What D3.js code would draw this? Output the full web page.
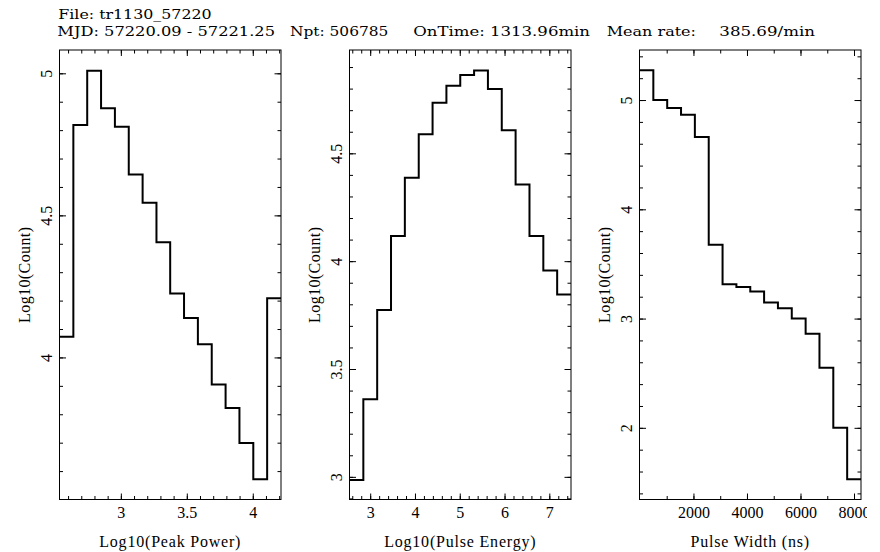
<!DOCTYPE html>
<html>
<head>
<meta charset="utf-8">
<script src="https://cdn.jsdelivr.net/npm/d3@7"></script>
<style>
body { margin: 0; background: #fff; }
svg { display: block; }
text { fill: #000; }
</style>
</head>
<body>
<svg width="880" height="552"></svg>
<script>
// header text
var headerTexts = ['File: tr1130_57220', 'MJD: 57220.09 - 57221.25', 'Npt: 506785',
    'OnTime: 1313.96min', 'Mean rate:', '385.69/min'];

// Log10(Peak Power) histogram
var peakEdges = [2.535, 2.640, 2.745, 2.850, 2.955, 3.060, 3.165, 3.270, 3.374,
    3.479, 3.584, 3.689, 3.794, 3.899, 4.004, 4.109, 4.214];
var peakCounts = [4.073, 4.818, 5.009, 4.877, 4.812, 4.644, 4.544, 4.405,
    4.225, 4.139, 4.046, 3.905, 3.822, 3.699, 3.571, 4.208];
var peakXTicks = [3, 3.5, 4];
var peakYTicks = [4, 4.5, 5];

// Log10(Pulse Energy) histogram
var energyEdges = [2.538, 2.847, 3.156, 3.465, 3.774, 4.084, 4.393, 4.702, 5.011,
    5.320, 5.629, 5.938, 6.247, 6.557, 6.866, 7.175, 7.484];
var energyCounts = [2.985, 3.360, 3.774, 4.117, 4.387, 4.588, 4.735, 4.813,
    4.863, 4.884, 4.798, 4.607, 4.356, 4.117, 3.957, 3.846];
var energyXTicks = [3, 4, 5, 6, 7];
var energyYTicks = [3, 3.5, 4, 4.5];

// Pulse Width histogram
var widthEdges = [-16, 501, 1019, 1536, 2053, 2571, 3088, 3605, 4123,
    4640, 5157, 5674, 6192, 6709, 7226, 7744, 8261];
var widthCounts = [5.272, 5.000, 4.927, 4.866, 4.661, 3.675, 3.315, 3.290,
    3.248, 3.147, 3.095, 3.000, 2.860, 2.549, 2.000, 1.530];
var widthXTicks = [2000, 4000, 6000, 8000];
var widthYTicks = [2, 3, 4, 5];

var svg = d3.select('svg');
var root = svg.append('g');

// clip like the plot device edge (last tick label is cut)
svg.append('clipPath').attr('id', 'devclip')
    .append('rect').attr('x', 0).attr('y', 0).attr('width', 867).attr('height', 552);
root.attr('clip-path', 'url(#devclip)');

// header, positioned/stretched to the original text widths
var headerLayout = [[58.3, 19.3, 153.3], [57.3, 36, 217.7], [290, 36, 98.3],
    [413.3, 36, 176.7], [606.7, 36, 89.3], [719.3, 36, 95.7]];
root.selectAll('.header')
    .data(headerTexts)
    .enter().append('text')
    .attr('class', 'header')
    .attr('x', function(d, i) { return headerLayout[i][0]; })
    .attr('y', function(d, i) { return headerLayout[i][1]; })
    .attr('textLength', function(d, i) { return headerLayout[i][2]; })
    .attr('lengthAdjust', 'spacingAndGlyphs')
    .style('font-family', '"DejaVu Serif", serif')
    .style('font-size', '13px')
    .text(function(d) { return d; });

var plotTop = 50, plotBottom = 499.5, pw = 221.5;
var panels = [
    {left: 59.5, edges: peakEdges, counts: peakCounts, xDomain: [2.535, 4.214], yDomain: [3.5, 5.082],
        xTicks: peakXTicks, xMinor: d3.range(2.6, 4.25, 0.1), yTicks: peakYTicks, yMinor: d3.range(3.6, 5.05, 0.1),
        xLabel: 'Log10(Peak Power)'},
    {left: 349.5, edges: energyEdges, counts: energyCounts, xDomain: [2.538, 7.484], yDomain: [2.895, 4.979],
        xTicks: energyXTicks, xMinor: d3.range(2.6, 7.45, 0.2), yTicks: energyYTicks, yMinor: d3.range(2.9, 4.95, 0.1),
        xLabel: 'Log10(Pulse Energy)'},
    {left: 639.5, edges: widthEdges, counts: widthCounts, xDomain: [-16, 8261], yDomain: [1.344, 5.458],
        xTicks: widthXTicks, xMinor: d3.range(1000, 8200, 1000), yTicks: widthYTicks, yMinor: d3.range(1.4, 5.45, 0.2),
        xLabel: 'Pulse Width (ns)'}
];

var fontTick = '"Liberation Serif", serif';

panels.forEach(function(p) {
    var xScale = d3.scaleLinear().domain(p.xDomain).range([p.left, p.left + pw]);
    var yScale = d3.scaleLinear().domain(p.yDomain).range([plotBottom, plotTop]);
    var g = root.append('g');

    function axisGroup(axis, tx, ty) {
        var a = g.append('g')
            .attr('transform', 'translate(' + [tx, ty] + ')')
            .call(axis);
        a.select('.domain').remove();
        a.selectAll('line').attr('stroke', '#000').attr('stroke-width', 1);
        a.selectAll('text').style('font-family', fontTick).style('font-size', '16px').attr('fill', '#000');
        return a;
    }
    var fmt = function(d) { return String(d); };

    // major + minor ticks on all four sides, pointing inward
    axisGroup(d3.axisBottom(xScale).tickValues(p.xTicks).tickSizeInner(-6).tickSizeOuter(0)
        .tickPadding(7).tickFormat(fmt), 0, plotBottom);
    axisGroup(d3.axisBottom(xScale).tickValues(p.xMinor).tickSizeInner(-3.5).tickSizeOuter(0).tickFormat(''), 0, plotBottom);
    axisGroup(d3.axisTop(xScale).tickValues(p.xTicks).tickSizeInner(-6).tickSizeOuter(0).tickFormat(''), 0, plotTop);
    axisGroup(d3.axisTop(xScale).tickValues(p.xMinor).tickSizeInner(-3.5).tickSizeOuter(0).tickFormat(''), 0, plotTop);

    var yl = axisGroup(d3.axisLeft(yScale).tickValues(p.yTicks).tickSizeInner(-6.5).tickSizeOuter(0)
        .tickFormat(fmt), p.left, 0);
    axisGroup(d3.axisLeft(yScale).tickValues(p.yMinor).tickSizeInner(-3.5).tickSizeOuter(0).tickFormat(''), p.left, 0);
    axisGroup(d3.axisRight(yScale).tickValues(p.yTicks).tickSizeInner(-6.5).tickSizeOuter(0).tickFormat(''), p.left + pw, 0);
    axisGroup(d3.axisRight(yScale).tickValues(p.yMinor).tickSizeInner(-3.5).tickSizeOuter(0).tickFormat(''), p.left + pw, 0);

    // rotated y tick labels
    yl.selectAll('.tick text')
        .attr('x', 0).attr('dy', 0)
        .attr('text-anchor', 'middle')
        .attr('transform', 'translate(-7.6,0) rotate(-90)');

    // frame
    g.append('rect')
        .attr('x', p.left).attr('y', plotTop)
        .attr('width', pw).attr('height', plotBottom - plotTop)
        .attr('fill', 'none').attr('stroke', '#000').attr('stroke-width', 1);

    // histogram steps
    var pts = p.counts.map(function(c, i) { return [p.edges[i], c]; });
    pts.push([p.edges[p.edges.length - 1], p.counts[p.counts.length - 1]]);
    var line = d3.line()
        .x(function(d) { return xScale(d[0]); })
        .y(function(d) { return yScale(d[1]); })
        .curve(d3.curveStepAfter);
    g.append('path')
        .attr('d', line(pts))
        .attr('fill', 'none')
        .attr('stroke', '#000')
        .attr('stroke-width', 2);

    // axis titles
    g.append('text')
        .attr('x', p.left + pw / 2).attr('y', 546.7)
        .attr('text-anchor', 'middle')
        .style('font-family', fontTick).style('font-size', '16px')
        .style('letter-spacing', '0.8px')
        .text(p.xLabel);
    g.append('text')
        .attr('transform', 'translate(' + [p.left - 29.7, (plotTop + plotBottom) / 2] + ') rotate(-90)')
        .attr('text-anchor', 'middle')
        .style('font-family', fontTick).style('font-size', '16px')
        .style('letter-spacing', '0.4px')
        .text('Log10(Count)');
});
</script>
</body>
</html>
